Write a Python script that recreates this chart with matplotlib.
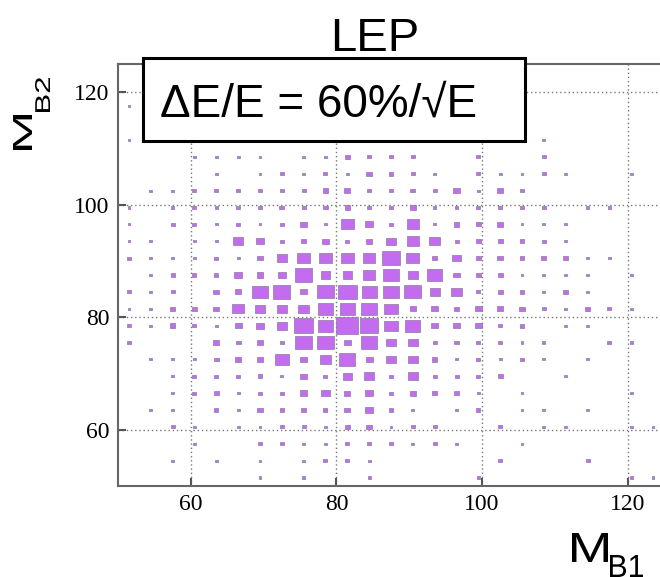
import numpy as np
import matplotlib
matplotlib.use("Agg")
import matplotlib.pyplot as plt
from matplotlib.patches import Rectangle, PathPatch
from matplotlib.collections import PatchCollection
from matplotlib.textpath import TextPath
from matplotlib.font_manager import FontProperties
from matplotlib.transforms import Affine2D

# bin edges (3 GeV bins from 50 to 125)
x_edges = np.arange(50, 126, 3)
y_edges = np.arange(50, 126, 3)

# bin contents, rows from top (y=123.5) to bottom (y=51.5), columns left to right
counts = [
    [0,0,0,0,0,0,0,0,0,0,0,0,0,0,0,0,0,0,0,0,0,0,0,0,0],
    [0,0,0,0,0,0,0,0,0,0,0,0,0,0,0,0,0,0,0,0,0,0,0,0,0],
    [1,0,0,0,0,0,0,0,0,0,0,0,0,0,0,0,0,0,0,0,0,0,0,0,0],
    [0,0,0,0,0,0,0,0,0,0,0,0,0,0,0,0,0,0,0,0,0,0,0,0,0],
    [1,0,0,0,0,0,0,0,0,0,0,0,0,0,0,0,0,0,0,1,0,0,0,0,0],
    [0,0,0,1,1,1,1,0,1,1,3,2,2,2,0,0,2,0,0,2,0,0,0,0,0],
    [0,0,0,0,1,0,1,2,1,2,1,4,3,2,1,0,2,1,1,2,1,0,0,1,0],
    [0,1,1,2,2,2,2,2,2,4,5,2,3,3,2,6,1,4,3,0,0,0,0,0,0],
    [1,0,1,2,1,2,2,3,2,3,4,2,3,4,1,1,2,2,2,2,0,1,1,0,0],
    [1,0,2,2,1,2,1,2,5,1,22,8,2,20,1,4,3,5,1,1,1,0,0,0,0],
    [1,1,0,1,1,13,7,2,3,6,2,5,11,20,14,2,4,3,3,2,1,0,0,0,0],
    [2,1,1,1,2,1,4,13,22,22,22,20,43,22,4,9,3,4,3,3,3,1,1,0,0],
    [0,1,2,2,2,7,6,9,38,11,11,20,33,13,29,5,4,3,1,1,1,1,0,1,0],
    [2,1,2,0,4,5,33,38,5,35,43,29,33,35,13,14,2,3,3,1,3,1,0,0,0],
    [1,1,3,3,4,17,13,13,15,29,29,33,22,5,6,3,6,5,4,2,1,3,2,1,0],
    [2,1,4,2,1,6,7,14,43,29,60,43,22,29,6,5,5,2,3,0,1,1,0,0,0],
    [2,0,0,0,4,3,6,2,35,33,6,33,13,11,2,3,2,2,1,1,0,0,2,1,0],
    [0,1,1,1,3,4,4,25,7,17,33,6,11,11,4,1,2,1,2,1,0,1,0,0,0],
    [0,0,1,2,2,2,3,1,5,2,11,13,2,14,2,2,2,3,0,0,1,0,0,0,0],
    [0,0,1,2,3,1,2,2,6,9,5,9,2,5,4,4,1,0,1,0,0,0,0,1,0],
    [0,1,1,0,2,1,5,2,3,2,5,9,2,1,0,1,2,0,1,1,0,1,0,0,0],
    [0,0,2,1,0,1,1,2,2,1,4,4,1,2,2,0,0,2,0,1,1,0,0,1,1],
    [0,0,0,1,0,0,2,2,1,1,2,2,2,1,2,1,0,0,1,0,0,0,0,0,0],
    [0,0,1,0,1,0,1,0,1,2,2,1,0,0,0,0,0,2,0,0,0,2,0,0,0],
    [0,0,0,0,0,0,1,0,1,0,0,1,0,0,0,0,1,0,0,0,0,0,0,1,1],
]

title = "LEP"
resolution_label = "\u0394E/E = 60%/\u221aE"
xlabel_main, xlabel_sub = "M", "B1"
ylabel_main, ylabel_sub = "M", "B2"

W, H = 660, 577
fig = plt.figure(figsize=(W / 100, H / 100), dpi=100)
ax = fig.add_axes([118 / W, 91 / H, 546 / W, 422 / H])
px = Affine2D().scale(1 / W, 1 / H) + fig.transFigure  # pixel coords, origin bottom-left
sans = FontProperties(family='Liberation Sans')


def glyphs(s, left, right, top, bottom, rotate=False):
    # squeeze a text into a pixel box (top-left origin), like the stretched original
    tp = TextPath((0, 0), s, size=1, prop=sans)
    e = tp.get_extents()
    t = Affine2D().translate(-e.x0, -e.y0)
    if rotate:
        t.scale((bottom - top) / e.width, (right - left) / e.height).rotate_deg(90)
        t.translate(right, H - bottom)
    else:
        t.scale((right - left) / e.width, (bottom - top) / e.height)
        t.translate(left, H - bottom)
    fig.patches.append(PathPatch(t.transform_path(tp), facecolor='black',
                                 edgecolor='none', transform=px))


z = np.array(counts)[::-1]  # row 0 = lowest y
zmax = z.max()
xc = 0.5 * (x_edges[:-1] + x_edges[1:])
yc = 0.5 * (y_edges[:-1] + y_edges[1:])
dx = np.diff(x_edges)
dy = np.diff(y_edges)

boxes = []
for j in range(len(yc)):
    for i in range(len(xc)):
        if z[j, i] <= 0:
            continue
        f = np.sqrt(z[j, i] / zmax)
        w, h = dx[i] * f, dy[j] * f
        boxes.append(Rectangle((xc[i] - w / 2, yc[j] - h / 2), w, h))

ax.add_collection(PatchCollection(boxes, facecolor='#c46cf0', edgecolor='#8a7a9e',
                                  linewidth=0.5, zorder=3))

ax.set_xlim(50, 125)
ax.set_ylim(50, 125)
ax.set_xticks([60, 80, 100, 120])
ax.set_yticks([60, 80, 100, 120])
ax.grid(True, color='#777777', linestyle=(0, (1, 2)), linewidth=1.0, zorder=1)
ax.tick_params(direction='in', length=6, width=1.5, color='#555555', pad=6,
               labelsize=17, labelfontfamily='Liberation Serif')
for s in ax.spines.values():
    s.set_color('#666666')
    s.set_linewidth(1.5)

# title and axis labels
fig.text(375 / W, 1 - 51 / H, title, ha='center', va='baseline',
         fontsize=34, family=['Liberation Sans', 'DejaVu Sans'])
glyphs(xlabel_main, 572, 608, 533, 562)
glyphs(xlabel_sub, 610, 643, 555, 577)
glyphs(ylabel_main, 13, 32, 115, 150, rotate=True)
glyphs(ylabel_sub, 35, 50, 78, 112, rotate=True)

# resolution box
fig.patches.append(Rectangle((143 / W, 1 - 141 / H), 382 / W, 83 / H,
                             transform=fig.transFigure, facecolor='white',
                             edgecolor='black', linewidth=2.2, zorder=5))
fig.text(160 / W, 1 - 117 / H, resolution_label, ha='left', va='baseline',
         fontsize=33, family=['Liberation Sans', 'DejaVu Sans'], zorder=6)

fig.savefig("out.png", dpi=100)
